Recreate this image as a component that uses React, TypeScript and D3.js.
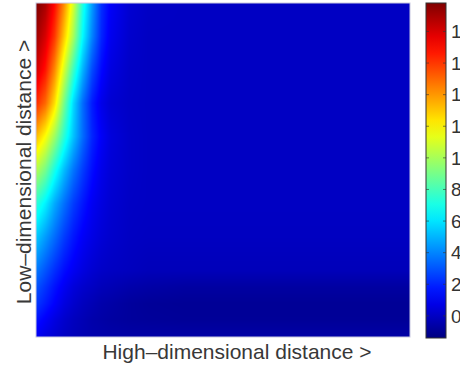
import React, { useMemo } from "react";
import * as d3 from "d3";

// sample positions (columns: high-dim distance, rows: low-dim distance, top row first)
const highDist = [0, 0.25, 0.5, 0.75, 1, 1.25, 1.5, 1.75, 2, 2.5, 3, 4, 6, 10];
const lowDist = [10, 9, 8, 7, 6, 5, 4, 3, 2, 1.5, 1, 0.5, 0];

// gradient values, one row per lowDist entry
const row10 = [19.9, 19, 17, 14.3, 11, 7.2, 4.5, 2.2, 1.1, 0.3, 0.05, 0, 0, 0];
const row9 = [19.2, 18, 16, 13, 10, 6.5, 4, 2, 0.9, 0.2, 0, 0, 0, 0];
const row8 = [18.2, 16.8, 14.3, 11, 7.8, 5, 2.8, 1.4, 0.6, 0.1, 0, 0, 0, 0];
const row7 = [16.3, 15, 12.5, 9, 5.8, 3.5, 1.8, 0.8, 0.3, 0.05, 0, 0, 0, 0];
const row6 = [13.3, 11.8, 9.8, 7.4, 5.3, 3.5, 2, 1.1, 0.5, 0.1, 0, 0, 0, 0];
const row5 = [10.3, 9, 7, 5.2, 3.7, 2.5, 1.5, 0.8, 0.4, 0.1, 0, 0, 0, 0];
const row4 = [7.5, 6.3, 4.8, 3.6, 2.5, 1.7, 1.0, 0.6, 0.3, 0.05, 0, 0, 0, 0];
const row3 = [5.5, 4.5, 3.5, 2.5, 1.7, 1.1, 0.7, 0.4, 0.2, 0, -0.05, -0.05, -0.05, -0.05];
const row2 = [3.8, 3.0, 2.2, 1.5, 1.0, 0.6, 0.3, 0.1, 0, -0.1, -0.2, -0.2, -0.2, -0.2];
const row15 = [3.0, 2.3, 1.6, 1.0, 0.5, 0.2, 0, -0.2, -0.3, -0.5, -0.6, -0.7, -0.7, -0.7];
const row1 = [2.4, 1.8, 1.2, 0.6, 0.2, -0.1, -0.3, -0.5, -0.6, -0.8, -0.9, -0.95, -0.95, -0.95];
const row05 = [1.6, 1.1, 0.6, 0.2, -0.1, -0.3, -0.5, -0.6, -0.7, -0.8, -0.85, -0.9, -0.9, -0.9];
const row0 = [1.0, 0.6, 0.3, 0, -0.2, -0.35, -0.45, -0.5, -0.55, -0.6, -0.6, -0.6, -0.6, -0.6];
const grid = [row10, row9, row8, row7, row6, row5, row4, row3, row2, row15, row1, row05, row0];

const colorDomain = [-1.4, 19.8];
const colorTicks = [0, 2, 4, 6, 8, 10, 12, 14, 16, 18];

const width = 460;
const height = 367;
const plot = { left: 36, right: 410, top: 3, bottom: 337 };
const bar = { left: 426, width: 20, top: 3, bottom: 338 };
const font = "'Liberation Sans', Arial, sans-serif";

// MATLAB jet
const jet = d3
  .scaleLinear<string>()
  .domain([0, 0.125, 0.375, 0.625, 0.875, 1])
  .range(["#000080", "#0000ff", "#00ffff", "#ffff00", "#ff0000", "#800000"])
  .interpolate(d3.interpolateRgb)
  .clamp(true);
const norm = d3.scaleLinear().domain(colorDomain).range([0, 1]).clamp(true);
const color = (v: number) => jet(norm(v));

export default function App() {
  const x = d3.scaleLinear().domain([0, 10]).range([plot.left, plot.right]);
  const y = d3.scaleLinear().domain([0, 10]).range([plot.bottom, plot.top]);
  const cy = d3.scaleLinear().domain(colorDomain).range([bar.bottom, bar.top]);

  const heat = useMemo(() => {
    const w = plot.right - plot.left;
    const h = plot.bottom - plot.top;
    const colIdx = d3.scaleLinear().domain(highDist).range(highDist.map((_, i) => i)).clamp(true);
    const rowIdx = d3.scaleLinear().domain(lowDist).range(lowDist.map((_, i) => i)).clamp(true);
    const canvas = document.createElement("canvas");
    canvas.width = w;
    canvas.height = h;
    const ctx = canvas.getContext("2d")!;
    const img = ctx.createImageData(w, h);
    for (let py = 0; py < h; py++) {
      const fr = rowIdx(y.invert(plot.top + py + 0.5));
      const r0 = Math.min(Math.floor(fr), grid.length - 2);
      const tr = fr - r0;
      for (let px = 0; px < w; px++) {
        const fc = colIdx(x.invert(plot.left + px + 0.5));
        const c0 = Math.min(Math.floor(fc), highDist.length - 2);
        const tc = fc - c0;
        const v =
          (grid[r0][c0] * (1 - tc) + grid[r0][c0 + 1] * tc) * (1 - tr) +
          (grid[r0 + 1][c0] * (1 - tc) + grid[r0 + 1][c0 + 1] * tc) * tr;
        const c = d3.rgb(color(v));
        const k = (py * w + px) * 4;
        img.data[k] = c.r;
        img.data[k + 1] = c.g;
        img.data[k + 2] = c.b;
        img.data[k + 3] = 255;
      }
    }
    ctx.putImageData(img, 0, 0);
    return canvas.toDataURL();
  }, []);

  const stops = d3.range(0, 1.0001, 0.05);

  return (
    <svg
      width={width}
      height={height}
      style={{ position: "absolute", left: 0, top: 0, background: "#fff" }}
    >
      <defs>
        <linearGradient id="jet" x1="0" y1="1" x2="0" y2="0">
          {stops.map((t) => (
            <stop key={t} offset={t} stopColor={jet(t)} />
          ))}
        </linearGradient>
      </defs>

      <image
        href={heat}
        x={x(0)}
        y={y(10)}
        width={x(10) - x(0)}
        height={y(0) - y(10)}
        preserveAspectRatio="none"
      />
      <rect
        x={x(0)}
        y={y(10)}
        width={x(10) - x(0)}
        height={y(0) - y(10)}
        fill="none"
        stroke="#c8c8e0"
        strokeWidth={1}
      />

      <rect
        x={bar.left}
        y={bar.top}
        width={bar.width}
        height={bar.bottom - bar.top}
        fill="url(#jet)"
        stroke="#333"
        strokeWidth={1}
      />
      {colorTicks.map((t) => (
        <g key={t}>
          <line x1={bar.left} x2={bar.left + 3} y1={cy(t)} y2={cy(t)} stroke="#333" strokeOpacity={0.6} />
          <line
            x1={bar.left + bar.width - 3}
            x2={bar.left + bar.width}
            y1={cy(t)}
            y2={cy(t)}
            stroke="#333"
            strokeOpacity={0.6}
          />
          {/* labels run past the right edge, as in the original */}
          <text
            x={bar.left + bar.width + 5}
            y={cy(t)}
            dy="0.35em"
            fontFamily={font}
            fontSize={19}
            fill="#333"
          >
            {t}
          </text>
        </g>
      ))}

      <text
        x={237}
        y={359}
        textAnchor="middle"
        fontFamily={font}
        fontSize={21}
        fill="#383838"
      >
        High–dimensional distance &gt;
      </text>
      <text
        transform={`translate(31,${(plot.top + plot.bottom) / 2 + 2}) rotate(-90)`}
        textAnchor="middle"
        fontFamily={font}
        fontSize={21}
        fill="#383838"
      >
        Low–dimensional distance &gt;
      </text>
    </svg>
  );
}
